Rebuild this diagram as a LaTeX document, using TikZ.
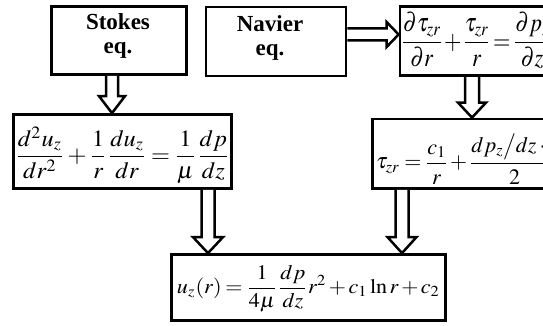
\documentclass[tikz,border=0pt]{standalone}
\usepackage{mathptmx}
\usepackage[no-math]{fontspec}
\setmainfont{Liberation Serif}
\usetikzlibrary{calc}
\tikzset{
  box/.style={draw, line width=2.8pt, inner sep=0pt},
  harrow/.style={draw, fill=white, line width=2.5pt, line join=miter},
  lbl/.style={inner sep=0pt},
  eq/.style={inner sep=0pt}
}
\newcommand\lbltext[2]{\scalebox{2.3}{\bfseries\def\arraystretch{0.85}\begin{tabular}{@{}c@{}}#1\\#2\end{tabular}}}
\newcommand\tightsp{\medmuskip=2mu plus 1mu\thickmuskip=3mu plus 1mu}
\newcommand\vhollow[5]{%
  \draw[harrow] ($(#1)+(-#3,0)$) -- ($(#2)+(-#3,-#5)$) -- ($(#2)+(-#4,-#5)$) -- (#2)
    -- ($(#2)+(#4,-#5)$) -- ($(#2)+(#3,-#5)$) -- ($(#1)+(#3,0)$);}
\newcommand\hhollow[5]{%
  \draw[harrow] ($(#1)+(0,-#3)$) -- ($(#2)+(-#5,-#3)$) -- ($(#2)+(-#5,-#4)$) -- (#2)
    -- ($(#2)+(-#5,#4)$) -- ($(#2)+(-#5,#3)$) -- ($(#1)+(0,#3)$);}
\begin{document}
\begin{tikzpicture}[x=1pt,y=-1pt]
\useasboundingbox (0,0) rectangle (543,326);
\fill[white] (0,0) rectangle (543,326);
\clip (0,0) rectangle (543,326);
% boxes
\node[box, minimum width=135pt, minimum height=68pt] (stokes) at (119,40.5) {};
\node[lbl] (stokestxt) at (118,37) {\lbltext{Stokes}{eq.}};
\node[box, minimum width=140pt, minimum height=69pt] (navier) at (276,41.5) {};
\node[lbl] (naviertxt) at (270,39) {\lbltext{Navier}{eq.}};
\node[box, minimum width=160pt, minimum height=69.5pt] (mom) at (480,41) {};
\node[eq, anchor=west] (momeq) at (402,40.5)
  {\scalebox{0.86}[1]{\fontsize{26}{30}\selectfont$\tightsp\displaystyle\frac{\partial\tau_{zr}}{\partial r}+\frac{\tau_{zr}}{r}=\frac{\partial p_z}{\partial z}$}};
\node[box, minimum width=218pt, minimum height=74pt] (stokeseq) at (122.5,151.5) {};
\node[eq] (stokeseqtxt) at (122.5,155)
  {\resizebox*{215pt}{57pt}{$\tightsp\displaystyle\frac{d^2u_z}{dr^2}+\frac{1}{r}\frac{du_z}{dr}=\frac{1}{\mu}\frac{dp}{dz}$}};
\node[box, minimum width=192.5pt, minimum height=69.5pt] (tau) at (468.75,153.75) {};
\node[eq, anchor=west] (taueq) at (376,159)
  {\fontsize{22}{26}\selectfont$\displaystyle\tau_{zr}=\frac{c_1}{r}+\frac{dp_z\big/dz\cdot r}{2}$};
\node[box, minimum width=274pt, minimum height=66pt] (result) at (308.5,287.5) {};
\node[eq] (resulteq) at (308.5,289)
  {\resizebox*{263pt}{47pt}{$\tightsp\displaystyle u_z(r)=\frac{1}{4\mu}\frac{dp}{dz}r^2+c_1\ln r+c_2$}};
% arrows
\vhollow{112,0 |- stokes.south}{112,0 |- stokeseq.north}{6}{13}{17}
\hhollow{navier.east |- 0,34.5}{mom.west |- 0,34.5}{6}{12.5}{12}
\vhollow{472,0 |- mom.south}{472,0 |- tau.north}{7}{14}{15}
\vhollow{208,0 |- stokeseq.south}{208,0 |- result.north}{6.5}{15}{16}
\vhollow{402,0 |- tau.south}{402,0 |- result.north}{6.5}{14.5}{16}
\end{tikzpicture}
\end{document}
